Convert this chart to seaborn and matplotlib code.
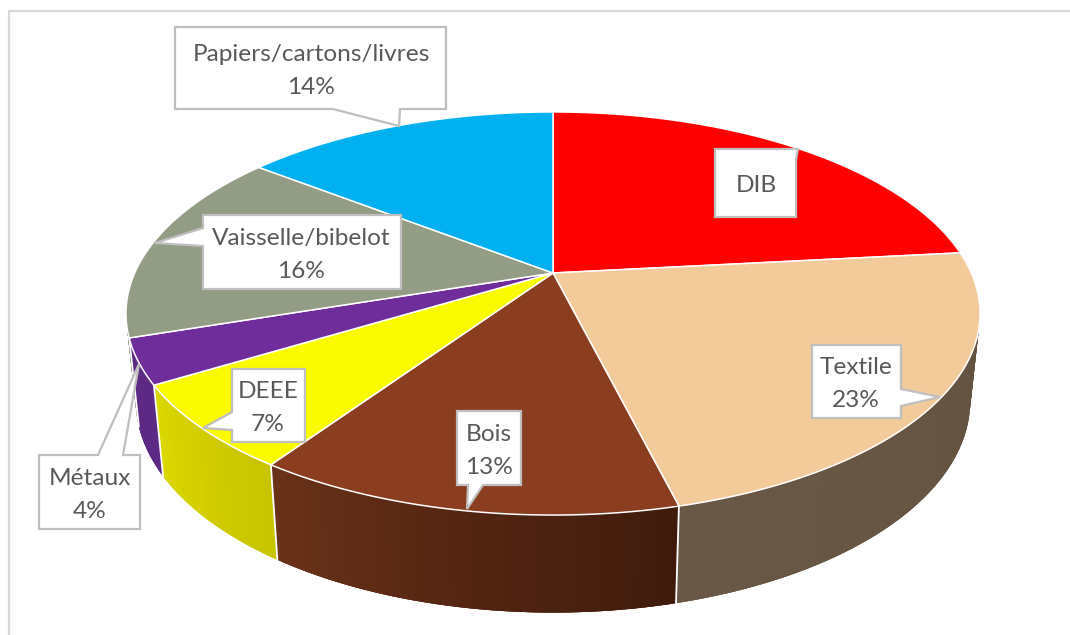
import numpy as np
import seaborn as sns
import matplotlib.pyplot as plt
import matplotlib.colors as mcolors


categories = ['DIB', 'Textile', 'Bois', 'DEEE', 'Métaux', 'Vaisselle/bibelot', 'Papiers/cartons/livres']
shares = [23.3, 22.8, 13.4, 6.8, 3.6, 15.6, 14.49]

top_colors = ['#ff0000', '#f3cb9b', '#8a3d1f', '#fbfb00', '#6f2c9b', '#939c85', '#00b0f0']
wall_left = ['#b00000', '#695845', '#6b3219', '#dcd800', '#5c2a85', '#6d7463', '#0082b2']
wall_right = ['#b00000', '#62513e', '#3e1a0b', '#c8c400', '#5c2a85', '#6d7463', '#0082b2']

# callout outlines in pixels, one per label
callouts = [
    [(715, 149), (796, 149), (798, 149), (796, 160), (796, 217), (715, 217)],
    [(812, 345), (901, 345), (901, 389), (940, 397), (901, 406), (901, 418), (812, 418)],
    [(457, 411), (521, 411), (521, 485), (483, 485), (467, 509), (468, 485), (457, 485)],
    [(232, 369), (305, 369), (305, 442), (232, 442), (232, 430), (203, 428), (232, 412)],
    [(39, 455), (98, 455), (139, 364), (123, 455), (140, 455), (140, 529), (39, 529)],
    [(203, 215), (401, 215), (401, 289), (203, 289), (203, 246), (155, 243), (203, 228)],
    [(175, 27), (446, 27), (446, 109), (400, 109), (399, 126), (333, 109), (175, 109)],
]
text_x = [756, 856, 489, 268, 90, 301, 311]
text_mid = [183, 381, 448, 405, 492, 252, 68]

# projection of the pie, pixels
cx, cy = 553, 273
rx, ry, persp = 418.3, 193.4, 0.201
shrink = 0.977


def top_point(theta):
    u, v = np.sin(theta), np.cos(theta)
    den = 1 + persp * v
    return cx + rx * u / den, cy - ry * v / den


def bottom_point(theta):
    x, y = top_point(theta)
    return cx + shrink * (x - cx), y + 91 + 0.05 * (y - 385)


sns.set_theme(style='white')
plt.rcParams['font.family'] = ['Lato', 'DejaVu Sans']

fig, ax = plt.subplots(figsize=(10.7, 6.35), dpi=100)
fig.subplots_adjust(left=0, right=1, top=1, bottom=0)
ax.set_xlim(0, 1070)
ax.set_ylim(635, 0)
ax.axis('off')

# chart area border
ax.plot([9, 9, 1070], [635, 11, 11], color='#d9d9d9', lw=1.6, zorder=1)

edges = np.concatenate([[0], np.cumsum(shares)]) / np.sum(shares) * 2 * np.pi

# side wall, painted back to front. quads overlap so no seams show in the gradient
quads = []
for i in range(len(shares)):
    steps = np.linspace(edges[i], edges[i + 1], max(int(shares[i] * 6), 4))
    c0 = np.array(mcolors.to_rgb(wall_left[i]))
    c1 = np.array(mcolors.to_rgb(wall_right[i]))
    for j in range(len(steps) - 1):
        a = steps[max(j - 1, 0)]
        b = steps[min(j + 2, len(steps) - 1)]
        # left of the screen is the end of the slice on the front half
        t = 1 - (j + 0.5) / (len(steps) - 1)
        quads.append((np.cos((a + b) / 2), a, b, c0 + (c1 - c0) * t))
quads.sort(key=lambda q: -q[0])
for _, a, b, col in quads:
    arc = np.linspace(a, b, 6)
    tx, ty = top_point(arc)
    bx, by = bottom_point(arc)
    ax.fill(np.r_[tx, bx[::-1]], np.r_[ty, by[::-1]], color=col, lw=0, zorder=2)

# white seams on the wall
for e in edges:
    if np.cos(e) < 0:
        p0, p1 = top_point(e), bottom_point(e)
        ax.plot([p0[0], p1[0]], [p0[1], p1[1]], color='white', lw=1.3, zorder=3)

# top face
for i in range(len(shares)):
    steps = np.linspace(edges[i], edges[i + 1], 200)
    xs, ys = top_point(steps)
    ax.fill(np.r_[cx, xs], np.r_[cy, ys], facecolor=top_colors[i], edgecolor='white', lw=1.1, zorder=4)

# labels
fs = 17.6
for i, name in enumerate(categories):
    ax.fill(*zip(*callouts[i]), facecolor='white', edgecolor='#bfbfbf', lw=1.6, joinstyle='miter', zorder=5)
    if name == 'DIB':
        ax.text(text_x[i], text_mid[i] + 9, name, ha='center', va='baseline', fontsize=fs, color='#595959', zorder=6)
    else:
        ax.text(text_x[i], text_mid[i] - 7, name, ha='center', va='baseline', fontsize=fs, color='#595959', zorder=6)
        ax.text(text_x[i], text_mid[i] + 26, f'{shares[i]:.0f}%', ha='center', va='baseline', fontsize=fs, color='#595959', zorder=6)

fig.savefig('out.png', dpi=100)
